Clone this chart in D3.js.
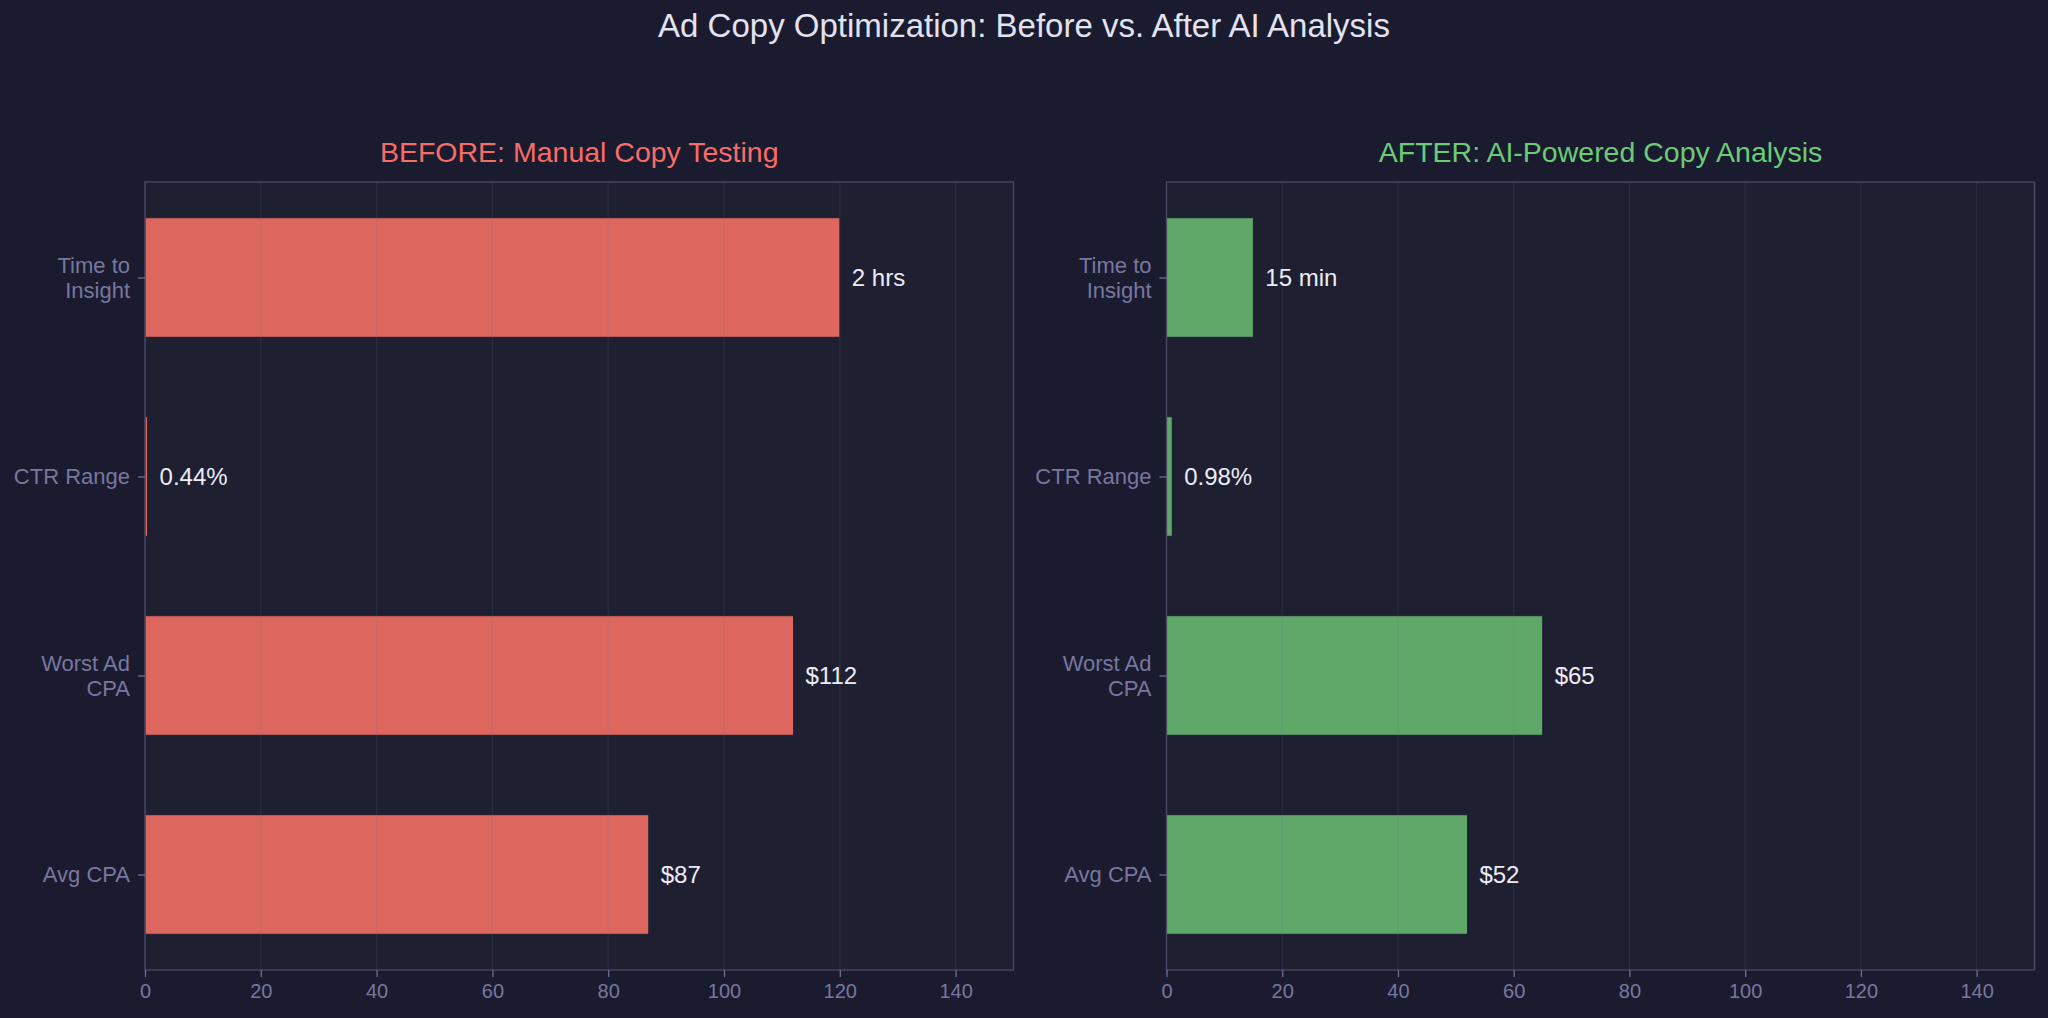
<!DOCTYPE html>
<html><head><meta charset="utf-8">
<script src="https://cdn.jsdelivr.net/npm/d3@7"></script>
<style>
html,body{margin:0;padding:0;background:#1a1b2f;}
svg{display:block;font-family:"Liberation Sans",Arial,Helvetica,sans-serif;}
</style></head>
<body><svg id="c" width="2048" height="1018"></svg>
<script>
const categories = ["Avg CPA", "Worst Ad CPA", "CTR Range", "Time to Insight"];
const categoryLabels = [["Avg CPA"], ["Worst Ad", "CPA"], ["CTR Range"], ["Time to", "Insight"]];
const beforeValues = [87, 112, 0.44, 120];
const afterValues = [52, 65, 0.98, 15];
const beforeLabels = ["$87", "$112", "0.44%", "2 hrs"];
const afterLabels = ["$52", "$65", "0.98%", "15 min"];
const xTicks = [0, 20, 40, 60, 80, 100, 120, 140];
const mainTitle = "Ad Copy Optimization: Before vs. After AI Analysis";
const panelTitles = ["BEFORE: Manual Copy Testing", "AFTER: AI-Powered Copy Analysis"];

const svg = d3.select("#c");
svg.append("rect").attr("width", 2048).attr("height", 1018).attr("fill", "#1a1b2f");
svg.append("text").attr("x", 1024).attr("y", 37).attr("text-anchor", "middle")
  .attr("font-size", 33).attr("fill", "#e2e2f0").text(mainTitle);

const panels = [
  {x0: 145, x1: 1013.5, values: beforeValues, labels: beforeLabels, color: "#dd665e", titleColor: "#f76c66", title: panelTitles[0]},
  {x0: 1166.5, x1: 2034.5, values: afterValues, labels: afterLabels, color: "#5fa86a", titleColor: "#6bcb77", title: panelTitles[1]}
];
const y0 = 182, y1 = 970;

panels.forEach(p => {
  const x = d3.scaleLinear().domain([0, 150]).range([p.x0, p.x1]);
  const y = d3.scaleLinear().domain([-0.48, 3.48]).range([y1, y0]);
  const barH = y(0) - y(0.6);
  const g = svg.append("g");
  g.append("rect").attr("x", p.x0).attr("y", y0).attr("width", p.x1 - p.x0).attr("height", y1 - y0)
    .attr("fill", "#1f1f32");
  g.selectAll("rect.bar").data(p.values).join("rect").attr("class", "bar")
    .attr("x", x(0)).attr("y", (d, i) => y(i) - barH / 2)
    .attr("width", d => x(d) - x(0)).attr("height", barH)
    .attr("fill", p.color).attr("stroke", "#1a1b2f").attr("stroke-width", 0.8);
  g.selectAll("line.grid").data(xTicks).join("line").attr("class", "grid")
    .attr("x1", d => x(d)).attr("x2", d => x(d)).attr("y1", y0).attr("y2", y1)
    .attr("stroke", "#707090").attr("stroke-opacity", 0.16).attr("stroke-width", 1.2);
  g.append("rect").attr("x", p.x0).attr("y", y0).attr("width", p.x1 - p.x0).attr("height", y1 - y0)
    .attr("fill", "none").attr("stroke", "#4a4a66").attr("stroke-width", 1.3);
  g.selectAll("text.val").data(p.values).join("text").attr("class", "val")
    .attr("x", d => x(d) + 12).attr("y", (d, i) => y(i)).attr("dy", "0.35em")
    .attr("font-size", 24).attr("fill", "#ececf6").text((d, i) => p.labels[i]);
  const xa = g.append("g").attr("transform", `translate(0,${y1})`)
    .call(d3.axisBottom(x).tickValues(xTicks).tickSize(7).tickPadding(7).tickFormat(d3.format("d")));
  xa.select(".domain").remove();
  xa.selectAll("line").attr("stroke", "#6e6e96").attr("stroke-width", 1.3);
  xa.selectAll("text").attr("fill", "#77779f").attr("font-size", 20).attr("font-family", "Liberation Sans, Arial, sans-serif");
  const ya = g.append("g").attr("transform", `translate(${p.x0},0)`)
    .call(d3.axisLeft(y).tickValues([0, 1, 2, 3]).tickSize(7).tickPadding(6).tickFormat(""));
  ya.select(".domain").remove();
  ya.selectAll("line").attr("stroke", "#6e6e96").attr("stroke-width", 1.3);
  categoryLabels.forEach((lines, i) => {
    const t = g.append("text").attr("text-anchor", "end").attr("font-size", 22).attr("fill", "#77779f");
    const n = lines.length;
    lines.forEach((ln, j) => {
      t.append("tspan").attr("x", p.x0 - 15)
        .attr("y", y(i) + (j - (n - 1) / 2) * 25).attr("dy", "0.35em").text(ln);
    });
  });
  svg.append("text").attr("x", (p.x0 + p.x1) / 2).attr("y", 162).attr("text-anchor", "middle")
    .attr("font-size", 28.5).attr("fill", p.titleColor).text(p.title);
});
</script></body></html>
